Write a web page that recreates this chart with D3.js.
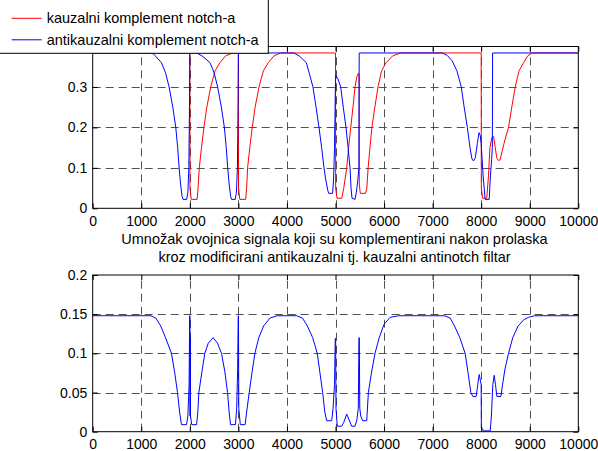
<!DOCTYPE html>
<html>
<head>
<meta charset="utf-8">
<script src="https://cdn.jsdelivr.net/npm/d3@7/dist/d3.min.js"></script>
<style>
  html, body { margin: 0; padding: 0; background: #fff; }
  svg { display: block; }
  text { font-family: "Liberation Sans", Arial, sans-serif; font-size: 14.5px; fill: #000; }
</style>
</head>
<body>
<svg id="chart" width="598" height="451"></svg>
<script>
// ---------------- DATA ----------------
const xTicks = [0, 1000, 2000, 3000, 4000, 5000, 6000, 7000, 8000, 9000, 10000];
const topYTicks = [0, 0.1, 0.2, 0.3];
const topYLabels = ["0", "0.1", "0.2", "0.3"];
const botYTicks = [0, 0.05, 0.1, 0.15, 0.2];
const botYLabels = ["0", "0.05", "0.1", "0.15", "0.2"];

const legendLabels = ["kauzalni komplement notch-a", "antikauzalni komplement notch-a"];
const titleLines = ["Umnožak ovojnica signala koji su komplementirani nakon prolaska",
                    "kroz modificirani antikauzalni tj. kauzalni antinotch filtar"];

// red: kauzalni komplement notch-a
const redX = [0, 2000, 2003, 2030, 2150, 2170, 2195, 2240, 2290, 2350, 2430, 2520, 2620, 2740, 2880,
  3000, 3003, 3030, 3150, 3170, 3190, 3235, 3285, 3345, 3425, 3515, 3615, 3735, 3870,
  5000, 5003, 5030, 5130, 5170, 5231, 5270, 5314, 5360, 5402, 5440, 5470, 5486, 5490, 5510, 5620, 5645, 5672, 5710, 5750, 5810, 5875, 5950, 6041, 6180, 6340,
  8000, 8003, 8030, 8115, 8150, 8180, 8220, 8255, 8290, 8320, 8357, 8390, 8430, 8490, 8563, 8630, 8701, 8780, 8873, 8960, 9050, 10000];
const redY = [0.384, 0.384, 0.05, 0.022, 0.022, 0.05, 0.1, 0.15, 0.2, 0.25, 0.3, 0.34, 0.36, 0.377, 0.384,
  0.384, 0.05, 0.022, 0.022, 0.05, 0.1, 0.15, 0.2, 0.25, 0.3, 0.34, 0.36, 0.377, 0.384,
  0.384, 0.05, 0.025, 0.025, 0.05, 0.1, 0.15, 0.2, 0.25, 0.3, 0.325, 0.334, 0.33, 0.06, 0.037, 0.037, 0.05, 0.1, 0.15, 0.2, 0.25, 0.3, 0.34, 0.36, 0.377, 0.384,
  0.384, 0.05, 0.025, 0.025, 0.08, 0.15, 0.175, 0.178, 0.15, 0.125, 0.118, 0.12, 0.14, 0.17, 0.2, 0.25, 0.3, 0.34, 0.36, 0.377, 0.384, 0.384];

// blue: antikauzalni komplement notch-a
const blueX = [0, 1140, 1250, 1416, 1500, 1573, 1650, 1711, 1750, 1780, 1810, 1840, 1860, 1935, 1960, 1980, 1993, 2000,
  2140, 2250, 2416, 2500, 2573, 2650, 2711, 2750, 2780, 2810, 2840, 2860, 2935, 2960, 2980, 2993, 3000,
  4140, 4250, 4400, 4536, 4600, 4660, 4715, 4763, 4800, 4840, 4860, 4940, 4960, 4980, 4995, 5004, 5050, 5107, 5160, 5216, 5260, 5299, 5320, 5340, 5402, 5430, 5460, 5482, 5488,
  7200, 7300, 7400, 7500, 7590, 7650, 7715, 7770, 7810, 7842, 7880, 7920, 7955, 7980, 8000, 8040, 8082, 8165, 8190, 8215, 8230, 8235, 10000];
const blueY = [0.384, 0.384, 0.382, 0.36, 0.335, 0.3, 0.25, 0.2, 0.15, 0.1, 0.06, 0.03, 0.022, 0.022, 0.04, 0.1, 0.25, 0.384,
  0.384, 0.377, 0.36, 0.335, 0.3, 0.25, 0.2, 0.15, 0.1, 0.06, 0.03, 0.022, 0.022, 0.04, 0.1, 0.25, 0.384,
  0.384, 0.377, 0.36, 0.3, 0.25, 0.2, 0.15, 0.1, 0.07, 0.045, 0.037, 0.037, 0.07, 0.15, 0.28, 0.329, 0.32, 0.3, 0.25, 0.2, 0.15, 0.1, 0.05, 0.025, 0.022, 0.04, 0.07, 0.1, 0.384,
  0.384, 0.378, 0.365, 0.34, 0.3, 0.25, 0.2, 0.15, 0.122, 0.117, 0.125, 0.16, 0.187, 0.18, 0.16, 0.08, 0.022, 0.022, 0.08, 0.12, 0.15, 0.384, 0.384];

// bottom: product of envelopes
const prodX = [0, 1200, 1300, 1400, 1500, 1622, 1690, 1746, 1790, 1828, 1932, 1960, 1985, 1997, 2002, 2006, 2010, 2014, 2040, 2140, 2165, 2186, 2250, 2309, 2380, 2481, 2570, 2653, 2720, 2777, 2810, 2839, 2940, 2965, 2985, 2997, 3002, 3008, 3040, 3140, 3170, 3223, 3280, 3340, 3420, 3520, 3650, 3800,
  4200, 4320, 4420, 4530, 4625, 4680, 4736, 4780, 4818, 4922, 4950, 4980, 4995, 5003, 5010, 5037, 5128, 5170, 5231, 5280, 5334, 5402, 5440, 5470, 5483, 5490, 5500, 5520, 5560, 5643, 5677, 5740, 5814, 5900, 6000, 6124, 6300,
  7250, 7361, 7450, 7560, 7670, 7730, 7787, 7828, 7897, 7930, 7959, 7985, 8000, 8003, 8030, 8048, 8186, 8210, 8240, 8268, 8295, 8323, 8406, 8440, 8490, 8563, 8650, 8760, 8880, 8975, 9100, 10000];
const prodY = [0.148, 0.148, 0.145, 0.135, 0.12, 0.1, 0.075, 0.05, 0.025, 0.009, 0.009, 0.02, 0.06, 0.148, 0.148, 0.02, 0.12, 0.02, 0.009, 0.009, 0.025, 0.05, 0.077, 0.1, 0.113, 0.12, 0.113, 0.1, 0.077, 0.05, 0.025, 0.009, 0.009, 0.03, 0.08, 0.148, 0.148, 0.03, 0.009, 0.009, 0.025, 0.05, 0.075, 0.1, 0.12, 0.135, 0.145, 0.148,
  0.148, 0.145, 0.135, 0.12, 0.1, 0.075, 0.05, 0.025, 0.014, 0.014, 0.03, 0.06, 0.119, 0.119, 0.03, 0.007, 0.007, 0.012, 0.0225, 0.015, 0.007, 0.007, 0.015, 0.03, 0.12, 0.12, 0.03, 0.02, 0.014, 0.014, 0.05, 0.075, 0.1, 0.12, 0.137, 0.146, 0.148,
  0.148, 0.145, 0.135, 0.12, 0.1, 0.075, 0.05, 0.045, 0.045, 0.06, 0.073, 0.065, 0.06, 0.005, 0.003, 0.001, 0.001, 0.02, 0.06, 0.072, 0.06, 0.045, 0.045, 0.06, 0.08, 0.1, 0.12, 0.135, 0.143, 0.146, 0.148, 0.148];

// ---------------- LAYOUT ----------------
const svg = d3.select("#chart");
const L = 92.7, R = 578.3;
const topBox = { top: 46.5, bottom: 208.3 };
const botBox = { top: 275, bottom: 431.7 };

const x = d3.scaleLinear().domain([0, 10000]).range([L, R]);
const yTop = d3.scaleLinear().domain([0, 0.4]).range([topBox.bottom, topBox.top]);
const yBot = d3.scaleLinear().domain([0, 0.2]).range([botBox.bottom, botBox.top]);

function zip(xs, ys) { return xs.map((v, i) => [v, ys[i]]); }

function drawPanel(id, y, yTicks, yLabels, box, series, xPad) {
  const g = svg.append("g");
  const clipId = "clip" + id;
  svg.append("clipPath").attr("id", clipId).append("rect")
    .attr("x", L).attr("y", box.top).attr("width", R - L).attr("height", box.bottom - box.top);

  // grid
  const grid = g.append("g").attr("stroke", "#333").attr("stroke-width", 1)
    .attr("stroke-dasharray", "8,5").attr("opacity", 0.85);
  xTicks.slice(1, -1).forEach(t => {
    grid.append("line").attr("x1", Math.round(x(t)) + 0.5).attr("x2", Math.round(x(t)) + 0.5)
      .attr("y1", box.bottom).attr("y2", box.top);
  });
  yTicks.filter(t => y(t) < box.bottom - 1 && y(t) > box.top + 1).forEach(t => {
    grid.append("line").attr("y1", Math.round(y(t)) + 0.5).attr("y2", Math.round(y(t)) + 0.5)
      .attr("x1", L).attr("x2", R);
  });

  // lines
  const line = d3.line().x(d => x(d[0])).y(d => y(d[1]));
  const lg = g.append("g").attr("clip-path", `url(#${clipId})`);
  series.forEach(s => {
    lg.append("path").datum(zip(s.xs, s.ys))
      .attr("fill", "none").attr("stroke", s.color).attr("stroke-width", 1)
      .attr("d", line);
  });

  // axes via d3
  const xAxis = d3.axisBottom(x).tickValues(xTicks).tickFormat(d3.format("d"))
    .tickSizeInner(-5).tickSizeOuter(0).tickPadding(xPad);
  g.append("g").attr("transform", `translate(0,${box.bottom})`).call(xAxis);
  const xAxisTop = d3.axisTop(x).tickValues(xTicks).tickFormat("").tickSizeInner(-5).tickSizeOuter(0);
  g.append("g").attr("transform", `translate(0,${box.top})`).call(xAxisTop);
  const yAxis = d3.axisLeft(y).tickValues(yTicks).tickFormat((d, i) => yLabels[i])
    .tickSizeInner(-5).tickSizeOuter(0).tickPadding(5.5);
  g.append("g").attr("transform", `translate(${L},0)`).call(yAxis);
  const yAxisR = d3.axisRight(y).tickValues(yTicks).tickFormat("").tickSizeInner(-5).tickSizeOuter(0);
  g.append("g").attr("transform", `translate(${R},0)`).call(yAxisR);

  g.selectAll(".domain").remove();
  g.selectAll(".tick line").attr("stroke", "#000");
  g.selectAll(".tick text").style("font-family", '"Liberation Sans", Arial, sans-serif')
    .style("font-size", "14px").attr("fill", "#000");

  // frame
  g.append("rect").attr("x", L).attr("y", box.top).attr("width", R - L).attr("height", box.bottom - box.top)
    .attr("fill", "none").attr("stroke", "#000").attr("stroke-width", 1);
  return g;
}

drawPanel("top", yTop, topYTicks, topYLabels, topBox, [
  { xs: redX, ys: redY, color: "#ff0000" },
  { xs: blueX, ys: blueY, color: "#0000ff" }
], 8);
drawPanel("bot", yBot, botYTicks, botYLabels, botBox, [
  { xs: prodX, ys: prodY, color: "#0000ff" }
], 7.5);

// title of bottom panel
svg.append("text").attr("x", (L + R) / 2 - 1).attr("y", 244).attr("text-anchor", "middle").text(titleLines[0]);
svg.append("text").attr("x", (L + R) / 2 - 1).attr("y", 261.5).attr("text-anchor", "middle").text(titleLines[1]);

// legend
const leg = svg.append("g");
leg.append("rect").attr("x", -2).attr("y", -2).attr("width", 270.3).attr("height", 55.3)
  .attr("fill", "#fff").attr("stroke", "#000").attr("stroke-width", 1);
const legColors = ["#ff0000", "#0000ff"];
const legY = [18.3, 39.8];
legendLabels.forEach((lab, i) => {
  leg.append("line").attr("x1", 11.7).attr("x2", 41.7).attr("y1", legY[i]).attr("y2", legY[i])
    .attr("stroke", legColors[i]).attr("stroke-width", 1);
  leg.append("text").attr("x", 46.7).attr("y", legY[i] + 4.8).text(lab);
});
</script>
</body>
</html>
